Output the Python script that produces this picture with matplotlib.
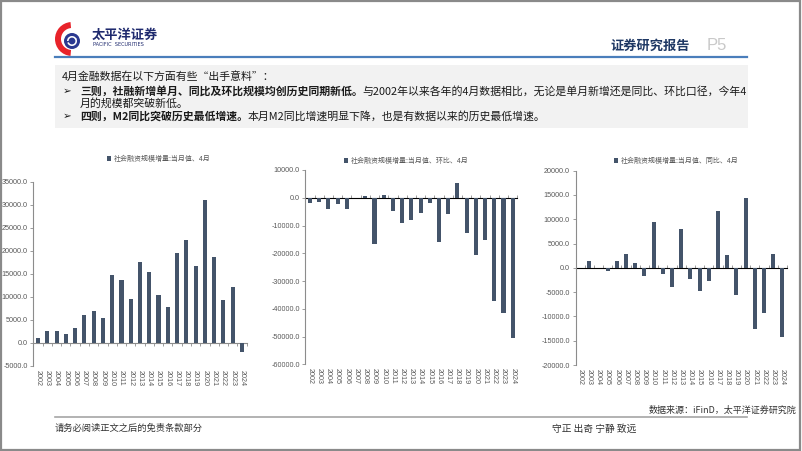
import matplotlib
matplotlib.use("Agg")
import matplotlib.pyplot as plt
from matplotlib.patches import Rectangle, Wedge, Circle
import numpy as np

plt.rcParams['font.family'] = ['Noto Sans CJK SC', 'DejaVu Sans']

years = [str(y) for y in range(2002, 2025)]

# 社会融资规模增量:当月值, 4月 (亿元)
tsf_month = [1000, 2550, 2620, 1900, 3300, 6100, 7000, 5400, 14850, 13700, 9600, 17600,
             15300, 10500, 7800, 19600, 22300, 16700, 31100, 18600, 9300, 12200, -2000]
# 环比
tsf_mom = [-2000, -1400, -4000, -2300, -4200, -100, 500, -16600, 1000, -4600, -9100, -7900,
           -5600, -1800, -16100, -6000, 5200, -12800, -20800, -15200, -37300, -41600, -50600]
# 同比
tsf_yoy = [np.nan, 1400, 70, -650, 1350, 2750, 900, -1600, 9500, -1200, -4000, 8000,
           -2300, -4700, -2700, 11800, 2700, -5600, 14400, -12500, -9300, 2900, -14300]

legend_labels = ["社会融资规模增量:当月值、4月",
                 "社会融资规模增量:当月值、环比、4月",
                 "社会融资规模增量:当月值、同比、4月"]

BAR = '#44546A'
GRAY_TXT = '#595959'
AX_COL = '#8c8c8c'
W, H = 802, 451

fig = plt.figure(figsize=(W / 100, H / 100), dpi=100)


def fx(px):
    return px / W


def fy(py):
    return 1 - py / H


# page frame
fig.add_artist(Rectangle((0.001, 0.003), 0.997, 0.994, transform=fig.transFigure,
                         fill=False, ec='#8a8a8a', lw=1.6))

# logo
lax = fig.add_axes([fx(53), fy(57), fx(30), 38 / H])
lax.set_xlim(0, 30)
lax.set_ylim(0, 38)
lax.set_aspect('equal')
lax.axis('off')
lax.add_patch(Wedge((19, 18), 17, 95, 265, width=6, fc='#e8232a', ec='none'))
lax.add_patch(Circle((19, 16), 8, fc='#2b3990', ec='none'))
lax.add_patch(Wedge((19, 16), 5, 200, 40, width=1.6, fc='white', ec='none'))
lax.add_patch(Wedge((19, 16), 5, 20, 180, width=1.6, fc='white', ec='none'))
fig.text(fx(92), fy(35), "太平洋证券", fontsize=9.5, weight='bold', color='#1f2a6e',
         va='center', ha='left')
fig.text(fx(93), fy(45), "PACIFIC  SECURITIES", fontsize=3.6, color='#1f2a6e',
         va='center', ha='left', family='DejaVu Sans')

fig.text(fx(610), fy(46), "证券研究报告", fontsize=9.5, weight='bold', color='#1f3864',
         va='center', ha='left')
fig.text(fx(707), fy(46), "P5", fontsize=12, color='#c9c9c9', va='center', ha='left',
         family='Liberation Sans')
fig.add_artist(plt.Line2D([fx(55), fx(747)], [fy(56.5), fy(56.5)], transform=fig.transFigure,
                          color='#4a7ebb', lw=1.6))

# text box
fig.add_artist(Rectangle((fx(55), fy(128)), fx(693), 63 / H, transform=fig.transFigure,
                         fc='#f2f2f2', ec='none'))

renderer = fig.canvas.get_renderer()


def rich(x, y, parts, size=7.85):
    for txt, wt in parts:
        t = fig.text(x, y, txt, fontsize=size, weight=wt, color='#1a1a1a',
                     va='center', ha='left')
        bb = t.get_window_extent(renderer)
        x = bb.x1 / fig.bbox.width


rich(fx(62), fy(77), [("4月金融数据在以下方面有些“出手意料”：", 'normal')])
fig.text(fx(63), fy(91), "➢", fontsize=7.5, color='#1a1a1a', va='center', ha='left',
         family='DejaVu Sans')
rich(fx(80), fy(91), [("三则，社融新增单月、同比及环比规模均创历史同期新低。", 'bold'),
                      ("与2002年以来各年的4月数据相比，无论是单月新增还是同比、环比口径，今年4", 'normal')])
rich(fx(80), fy(103.5), [("月的规模都突破新低。", 'normal')])
fig.text(fx(63), fy(116), "➢", fontsize=7.5, color='#1a1a1a', va='center', ha='left',
         family='DejaVu Sans')
rich(fx(80), fy(116), [("四则，M2同比突破历史最低增速。", 'bold'),
                       ("本月M2同比增速明显下降，也是有数据以来的历史最低增速。", 'normal')])


def bar_chart(rect, values, lo, hi, step, label, leg_x, leg_y):
    ax = fig.add_axes(rect)
    x = np.arange(len(years))
    bars = ax.bar(x, values, width=0.44, color=BAR, zorder=3, label=label)
    ax.set_xlim(-0.5, len(years) - 0.5)
    ax.set_ylim(lo, hi)
    ax.set_yticks(np.arange(lo, hi + step / 2, step))
    ax.set_yticklabels(["%.1f" % v for v in np.arange(lo, hi + step / 2, step)])
    ax.set_xticks(x)
    ax.set_xticklabels(years, rotation=270, ha='center', va='top')
    for s in ['top', 'right', 'bottom']:
        ax.spines[s].set_visible(False)
    ax.spines['left'].set_color(AX_COL)
    ax.spines['left'].set_linewidth(0.8)
    ax.tick_params(axis='y', length=2.5, width=0.6, color=AX_COL, pad=1.5,
                   labelsize=5.2, labelcolor=GRAY_TXT)
    ax.tick_params(axis='x', length=0, pad=3, labelsize=5.2, labelcolor=GRAY_TXT)
    for t in ax.get_xticklabels() + ax.get_yticklabels():
        t.set_family('Liberation Sans')
    # zero line with category tick marks
    sec = ax.secondary_xaxis((0 - lo) / (hi - lo))
    sec.set_xticks(np.arange(-0.5, len(years), 1.0))
    sec.set_xticklabels([])
    sec.tick_params(axis='x', direction='out', length=2.5, width=0.6, color=AX_COL)
    sec.spines['bottom'].set_color(AX_COL)
    sec.spines['bottom'].set_linewidth(0.8)
    ax.legend(handles=[bars], loc='center', bbox_to_anchor=(fx(leg_x), fy(leg_y)),
              bbox_transform=fig.transFigure, frameon=False, fontsize=5,
              handlelength=0.6, handleheight=0.6, handletextpad=0.4,
              labelcolor=GRAY_TXT)
    return ax


bar_chart([fx(33.4), fy(365.7), fx(213.2), (365.7 - 182) / H], tsf_month,
          -5000, 35000, 5000, legend_labels[0], 159, 159)
bar_chart([fx(305.4), fy(364.3), fx(211.9), (364.3 - 170) / H], tsf_mom,
          -60000, 10000, 10000, legend_labels[1], 406, 161)
bar_chart([fx(575.5), fy(365), fx(211.4), (365 - 170.7) / H], tsf_yoy,
          -20000, 20000, 5000, legend_labels[2], 676, 161)

# footer
fig.text(fx(796), fy(410), "数据来源：iFinD，太平洋证券研究院", fontsize=6.5, color='#333333',
         va='center', ha='right')
fig.add_artist(plt.Line2D([fx(55), fx(747)], [fy(417), fy(417)], transform=fig.transFigure,
                          color='#a6a6a6', lw=1.2))
fig.text(fx(55), fy(428.5), "请务必阅读正文之后的免责条款部分", fontsize=6.7, color='#333333',
         va='center', ha='left')
fig.text(fx(552), fy(428.5), "守正 出奇 宁静 致远", fontsize=7.0, color='#333333',
         va='center', ha='left')

fig.savefig("out.png", dpi=100)
